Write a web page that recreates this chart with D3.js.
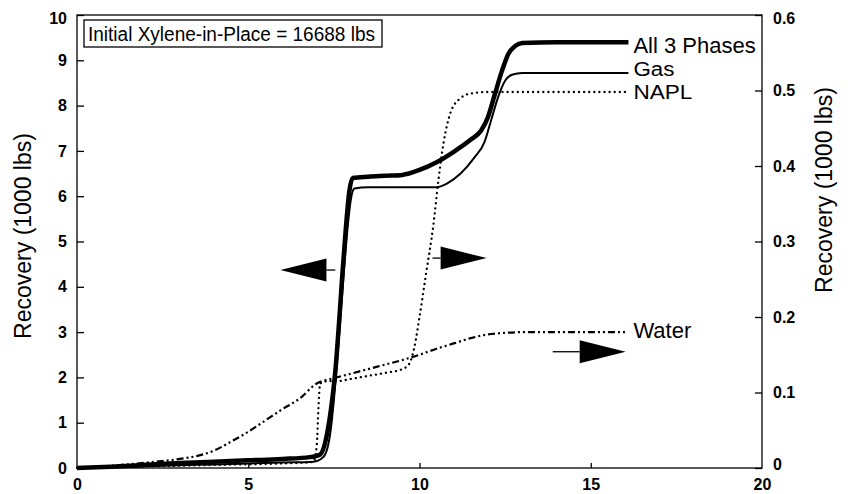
<!DOCTYPE html>
<meta charset="UTF-8">
<style>
    body { margin: 0; background: #fff; }
    text { font-family: "Liberation Sans", Arial, sans-serif; fill: #000; }
    .tick-label { font-size: 16px; font-weight: bold; }
    .axis-title { font-size: 23px; }
    .series-label { font-size: 22px; }
    .line { fill: none; stroke: #000; }
</style>
<body>
<script src="https://d3js.org/d3.v7.min.js"></script>
<script>

// ---- data (time vs. cumulative recovery) ----
var title = "Initial Xylene-in-Place = 16688 lbs";
var yLeftTitle = "Recovery (1000 lbs)";
var yRightTitle = "Recovery (1000 lbs)";

var xTicks = [0, 5, 10, 15, 20];
var yLeftTicks = [0, 1, 2, 3, 4, 5, 6, 7, 8, 9, 10];
var yRightTicks = [0, 0.1, 0.2, 0.3, 0.4, 0.5, 0.6];

// All 3 Phases (left axis)
var allT = [0, 1, 2, 3, 4, 5, 6, 6.8, 7.1, 7.3, 7.45, 7.55, 7.65, 7.75, 7.85, 7.95, 8.05, 8.5, 9, 9.5, 10, 10.5, 11, 11.5, 11.8, 12.0, 12.2, 12.4, 12.6, 12.8, 13.0, 14, 16.1];
var allV = [0, 0.03, 0.07, 0.11, 0.14, 0.17, 0.2, 0.24, 0.3, 0.75, 1.5, 2.2, 3.2, 4.3, 5.3, 6.1, 6.4, 6.43, 6.45, 6.47, 6.58, 6.75, 6.98, 7.25, 7.45, 7.75, 8.25, 8.75, 9.15, 9.32, 9.38, 9.4, 9.4];

// Gas (left axis)
var gasT = [0, 1, 2, 3, 4, 5, 6, 6.9, 7.2, 7.4, 7.5, 7.6, 7.7, 7.8, 7.9, 8.0, 8.1, 8.5, 10.5, 10.8, 11.2, 11.6, 11.9, 12.1, 12.3, 12.5, 12.7, 13.0, 16.1];
var gasV = [0, 0.02, 0.04, 0.06, 0.08, 0.1, 0.12, 0.14, 0.25, 0.8, 1.5, 2.4, 3.4, 4.4, 5.3, 5.95, 6.17, 6.2, 6.2, 6.28, 6.5, 6.85, 7.2, 7.7, 8.2, 8.55, 8.68, 8.72, 8.72];

// NAPL (right axis)
var naplT = [0, 2, 4, 6, 6.9, 7.0, 7.05, 7.1, 7.3, 7.6, 8.0, 8.5, 9.0, 9.5, 9.7, 9.85, 10.0, 10.2, 10.4, 10.55, 10.7, 10.9, 11.2, 11.5, 12, 16];
var naplV = [0, 0.002, 0.004, 0.006, 0.008, 0.03, 0.08, 0.112, 0.115, 0.115, 0.118, 0.122, 0.126, 0.131, 0.138, 0.16, 0.2, 0.26, 0.32, 0.38, 0.43, 0.47, 0.49, 0.496, 0.498, 0.498];

// Water (right axis)
var waterT = [0, 1, 2, 3, 3.6, 4, 4.5, 5, 5.5, 6, 6.5, 7, 7.5, 8, 8.5, 9, 9.5, 10, 10.5, 11, 11.5, 12, 12.5, 13, 16];
var waterV = [0, 0.003, 0.007, 0.012, 0.017, 0.023, 0.035, 0.048, 0.063, 0.078, 0.092, 0.112, 0.119, 0.125, 0.131, 0.137, 0.143, 0.15, 0.158, 0.165, 0.172, 0.177, 0.179, 0.18, 0.18];

// labels at the line ends
var seriesNames = ["All 3 Phases", "Gas", "NAPL", "Water"];
var labelAxis = ["left", "left", "right", "right"];
var labelY = [9.35, 8.72, 0.498, 0.18];

// arrows that point to the axis each curve belongs to: [tail t, tip t, value, axis]
var arrows = [
  [7.54, 5.94, 4.37, "left"],
  [10.38, 11.96, 0.278, "right"],
  [13.89, 16.02, 0.154, "right"]
];

// ---- layout ----
var width = 848, height = 494;
var margin = {top: 15, right: 86, bottom: 26, left: 77};
var plotW = width - margin.left - margin.right,
    plotH = height - margin.top - margin.bottom;

var svg = d3.select("body").append("svg")
    .attr("width", width)
    .attr("height", height);

var g = svg.append("g")
    .attr("transform", "translate(" + margin.left + "," + margin.top + ")");

var x = d3.scaleLinear().domain([0, 20]).range([0, plotW]);
var yL = d3.scaleLinear().domain([0, 10]).range([plotH, 0]);
var yR = d3.scaleLinear().domain([0, 0.6]).range([plotH, 0]);

// frame
g.append("rect")
    .attr("width", plotW)
    .attr("height", plotH)
    .attr("fill", "none")
    .attr("stroke", "#000")
    .attr("stroke-width", 1.3);

// axes (ticks pointing inward)
var xAxis = g.append("g")
    .attr("transform", "translate(0," + plotH + ")")
    .call(d3.axisBottom(x).tickValues(xTicks).tickSize(-5).tickPadding(7).tickFormat(d3.format("d")));
xAxis.selectAll(".tick line").filter(function(d) { return d === 0 || d === 20; }).remove();

var yAxisL = g.append("g")
    .call(d3.axisLeft(yL).tickValues(yLeftTicks).tickSize(-7).tickPadding(10).tickFormat(d3.format("d")));

var yAxisR = g.append("g")
    .attr("transform", "translate(" + plotW + ",0)")
    .call(d3.axisRight(yR).tickValues(yRightTicks).tickSize(-7).tickPadding(11)
      .tickFormat(function(d) { return d === 0 ? "0" : d3.format(".1f")(d); }));

[xAxis, yAxisL, yAxisR].forEach(function(a) {
  a.select(".domain").remove();
  a.selectAll(".tick line").attr("stroke", "#000").attr("stroke-width", 1.3);
  a.selectAll(".tick text").attr("class", "tick-label").attr("font-size", null).attr("font-family", null);
});
xAxis.selectAll(".tick text").attr("dy", "0.95em");
yAxisL.selectAll(".tick text").filter(function(d) { return d === 10; }).attr("dy", "0.5em");
yAxisR.selectAll(".tick text").filter(function(d) { return d === 0; }).attr("dy", "0.1em");
yAxisR.selectAll(".tick text").filter(function(d) { return d === 0.6; }).attr("dy", "0.5em");

// axis titles
svg.append("text")
    .attr("class", "axis-title")
    .attr("transform", "translate(31,236) rotate(-90)")
    .attr("text-anchor", "middle")
    .text(yLeftTitle);

svg.append("text")
    .attr("class", "axis-title")
    .attr("transform", "translate(832,190) rotate(-90)")
    .attr("text-anchor", "middle")
    .text(yRightTitle);

// title box
var tb = g.append("g").attr("transform", "translate(7,5)");
tb.append("rect")
    .attr("width", 298)
    .attr("height", 27)
    .attr("fill", "#fff")
    .attr("stroke", "#000")
    .attr("stroke-width", 1.3);
tb.append("text")
    .attr("x", 4)
    .attr("y", 21)
    .attr("font-size", "20px")
    .attr("textLength", 287)
    .attr("lengthAdjust", "spacingAndGlyphs")
    .text(title);

// curves
function pts(ts, vs) { return ts.map(function(t, i) { return [t, vs[i]]; }); }

var lineL = d3.line().x(function(d) { return x(d[0]); }).y(function(d) { return yL(d[1]); }).curve(d3.curveMonotoneX);
var lineR = d3.line().x(function(d) { return x(d[0]); }).y(function(d) { return yR(d[1]); }).curve(d3.curveMonotoneX);

g.append("path").attr("class", "line")
    .attr("d", lineR(pts(waterT, waterV)))
    .attr("stroke-width", 2.2)
    .attr("stroke-dasharray", "7,3,2,3,2,3");

g.append("path").attr("class", "line")
    .attr("d", lineR(pts(naplT, naplV)))
    .attr("stroke-width", 2.3)
    .attr("stroke-linecap", "round")
    .attr("stroke-dasharray", "0.1,5");

g.append("path").attr("class", "line")
    .attr("d", lineL(pts(gasT, gasV)))
    .attr("stroke-width", 2);

g.append("path").attr("class", "line")
    .attr("d", lineL(pts(allT, allV)))
    .attr("stroke-width", 4.5)
    .attr("stroke-linejoin", "round");

// series labels (Gas and NAPL sit tight, so a bit smaller and stretched)
var labelDy = [9, 3, 7, 6];
var labelSize = [22, 20, 20, 22];
var labelLen = [null, 41, 59, null];
seriesNames.forEach(function(name, i) {
  var yy = labelAxis[i] === "left" ? yL(labelY[i]) : yR(labelY[i]);
  var t = g.append("text")
    .attr("class", "series-label")
    .attr("x", x(16.1) + 5)
    .attr("y", yy + labelDy[i])
    .style("font-size", labelSize[i] + "px")
    .text(name);
  if (labelLen[i]) t.attr("textLength", labelLen[i]).attr("lengthAdjust", "spacingAndGlyphs");
});

// arrows
arrows.forEach(function(a) {
  var ys = a[3] === "left" ? yL(a[2]) : yR(a[2]);
  var tail = x(a[0]), tip = x(a[1]);
  var dir = tip > tail ? 1 : -1;
  var base = tip - dir * 46;
  g.append("line")
    .attr("x1", tail).attr("x2", base)
    .attr("y1", ys).attr("y2", ys)
    .attr("stroke", "#000").attr("stroke-width", 1.3);
  g.append("path")
    .attr("d", "M" + tip + "," + ys + "L" + base + "," + (ys - 11.5) + "L" + base + "," + (ys + 11.5) + "Z")
    .attr("fill", "#000");
});

</script>
</body>
